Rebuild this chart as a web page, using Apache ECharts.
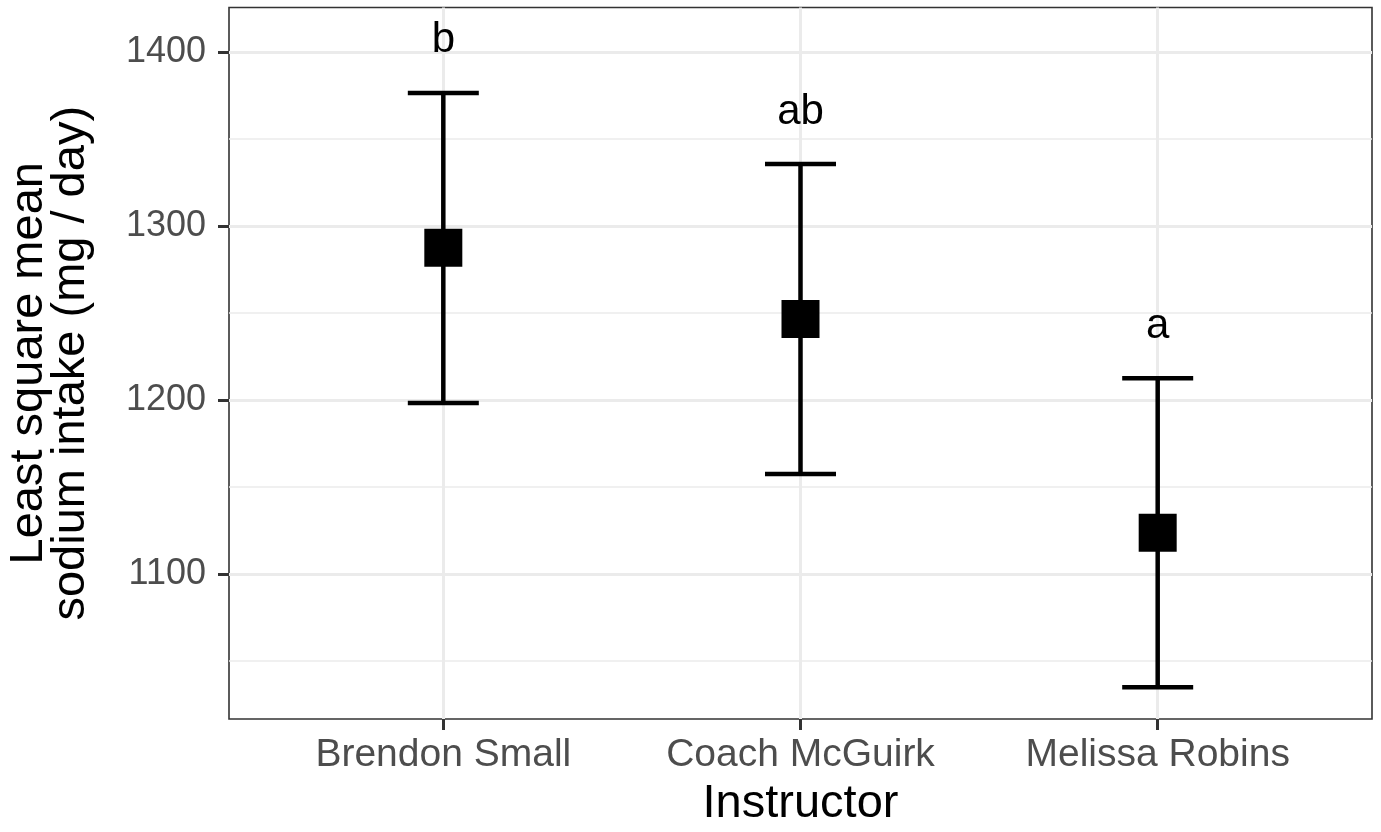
<!DOCTYPE html>
<html>
<head>
<meta charset="utf-8">
<script src="https://cdn.jsdelivr.net/npm/echarts@6/dist/echarts.min.js"></script>
<style>
html,body{margin:0;padding:0;background:#fff;}
#chart{width:1381px;height:832px;}
</style>
</head>
<body>
<div id="chart"></div>
<script>
// Data
var categories = ['Brendon Small', 'Coach McGuirk', 'Melissa Robins'];
var means = [1287.5, 1246.6, 1123.7];
var lowers = [1198.3, 1157.5, 1034.9];
var uppers = [1376.4, 1335.6, 1212.5];
var letters = ['b', 'ab', 'a'];
var letterPos = [1406.5, 1365.5, 1242.5];
var yTicks = [1100, 1200, 1300, 1400];
var yMinorLines = [1050, 1150, 1250, 1350];
var xTicks = [0, 1, 2];

var chart = echarts.init(document.getElementById('chart'));

var barData = categories.map(function (c, i) { return [i, lowers[i], uppers[i]]; });
var pointData = categories.map(function (c, i) { return [i, means[i]]; });
var letterData = categories.map(function (c, i) { return [i, letterPos[i], letters[i]]; });

var option = {
  animation: false,
  backgroundColor: '#ffffff',
  grid: {
    left: 229, top: 7.5, right: 9, bottom: 113,
    outerBoundsMode: 'none',
    containLabel: false,
    show: true, borderColor: '#333333', borderWidth: 1.6, backgroundColor: 'transparent'
  },
  xAxis: {
    type: 'value',
    min: -0.6, max: 2.6,
    name: 'Instructor',
    nameLocation: 'middle',
    nameGap: 62,
    nameTextStyle: { fontFamily: 'Liberation Sans', fontSize: 47, color: '#000000' },
    axisLine: { show: false, onZero: false },
    axisTick: { show: true, customValues: xTicks, length: 11, lineStyle: { color: '#333333', width: 3 } },
    axisLabel: {
      show: true, customValues: xTicks, margin: 17,
      fontFamily: 'Liberation Sans', fontSize: 39, color: '#4D4D4D',
      formatter: function (v) { return categories[Math.round(v)]; }
    },
    splitLine: { show: true, lineStyle: { color: '#EBEBEB', width: 3 } }
  },
  yAxis: {
    type: 'value',
    min: 1016.7, max: 1425.6,
    name: 'Least square mean\nsodium intake (mg / day)',
    nameLocation: 'middle',
    nameGap: 137,
    nameRotate: 90,
    nameTextStyle: { fontFamily: 'Liberation Sans', fontSize: 47, color: '#000000', lineHeight: 42 },
    axisLine: { show: false, onZero: false },
    axisTick: { show: true, customValues: yTicks, length: 11, lineStyle: { color: '#333333', width: 3 } },
    axisLabel: {
      show: true, customValues: yTicks, margin: 23,
      fontFamily: 'Liberation Sans', fontSize: 36, color: '#4D4D4D',
      formatter: function (v) { return String(v); }
    },
    splitLine: { show: true, lineStyle: { color: '#EBEBEB', width: 3 } }
  },
  series: [
    {
      type: 'line', data: [], z: 1, silent: true,
      markLine: {
        silent: true, symbol: 'none', z: 1, animation: false,
        label: { show: false },
        lineStyle: { color: '#EBEBEB', width: 1.6, type: 'solid' },
        data: yMinorLines.map(function (v) { return { yAxis: v }; })
      }
    },
    {
      type: 'custom', z: 3, silent: true,
      data: barData,
      renderItem: function (params, api) {
        var x = api.value(0);
        var lo = api.coord([x, api.value(1)]);
        var hi = api.coord([x, api.value(2)]);
        var hw = 35.5;
        var style = { stroke: '#000000', lineWidth: 4.5, fill: null };
        return {
          type: 'group',
          children: [
            { type: 'line', shape: { x1: lo[0], y1: lo[1], x2: hi[0], y2: hi[1] }, style: style },
            { type: 'line', shape: { x1: lo[0] - hw, y1: lo[1], x2: lo[0] + hw, y2: lo[1] }, style: style },
            { type: 'line', shape: { x1: hi[0] - hw, y1: hi[1], x2: hi[0] + hw, y2: hi[1] }, style: style }
          ]
        };
      }
    },
    {
      type: 'scatter', z: 4, silent: true,
      symbol: 'rect', symbolSize: 38,
      itemStyle: { color: '#000000', opacity: 1 },
      data: pointData
    },
    {
      type: 'custom', z: 5, silent: true,
      data: letterData,
      renderItem: function (params, api) {
        var p = api.coord([api.value(0), api.value(1)]);
        return {
          type: 'text',
          style: {
            x: p[0], y: p[1], text: letters[params.dataIndex],
            fontFamily: 'Liberation Sans', fontSize: 42, fill: '#000000',
            align: 'center', verticalAlign: 'middle'
          }
        };
      }
    }
  ]
};
chart.setOption(option);
</script>
</body>
</html>
